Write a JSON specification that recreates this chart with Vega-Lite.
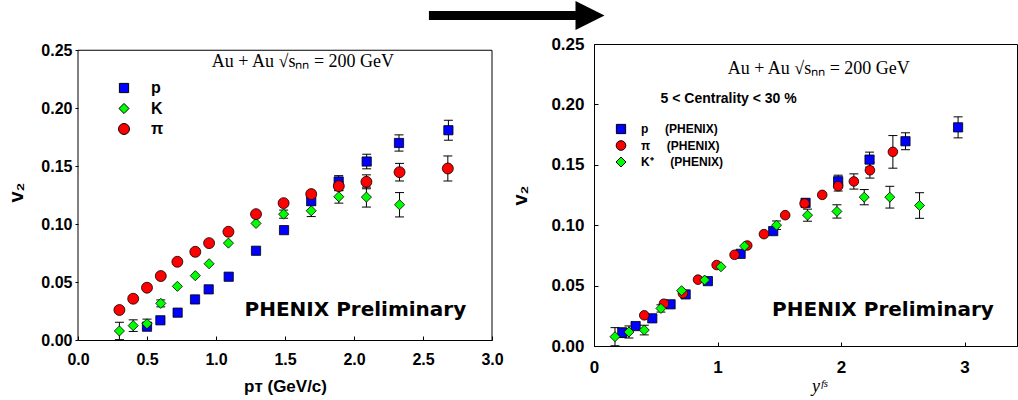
{
 "$schema": "https://vega.github.io/schema/vega-lite/v6.json",
 "padding": {"left": 6, "top": 0, "right": 0, "bottom": 0},
 "bounds": "flush",
 "spacing": 102,
 "config": {
  "view": {"stroke": "black", "strokeWidth": 1},
  "axis": {"labelFont": "Liberation Sans", "labelFontWeight": "bold", "labelColor": "black", "titleFont": "Liberation Sans", "titleFontWeight": "bold", "titleFontSize": 18, "titleColor": "black", "tickColor": "black", "domainColor": "black", "grid": false, "labelFlush": false, "labelOverlap": false},
  "legend": {"padding": 0, "symbolStrokeColor": "black", "symbolStrokeWidth": 1, "labelColor": "black"}
 },
 "datasets": {
  "one": [{"k": 1}],
  "left": [
   {"s": "p", "x": 0.5, "v": 0.0115},
   {"s": "p", "x": 0.597, "v": 0.017},
   {"s": "p", "x": 0.722, "v": 0.0236},
   {"s": "p", "x": 0.848, "v": 0.035},
   {"s": "p", "x": 0.947, "v": 0.0437},
   {"s": "p", "x": 1.092, "v": 0.0546},
   {"s": "p", "x": 1.29, "v": 0.077},
   {"s": "p", "x": 1.493, "v": 0.0948},
   {"s": "p", "x": 1.69, "v": 0.1198, "lo": 0.1168, "hi": 0.1228},
   {"s": "p", "x": 1.889, "v": 0.1368, "lo": 0.1318, "hi": 0.1418},
   {"s": "p", "x": 2.092, "v": 0.154, "lo": 0.1477, "hi": 0.1603},
   {"s": "p", "x": 2.326, "v": 0.17, "lo": 0.163, "hi": 0.177},
   {"s": "p", "x": 2.684, "v": 0.181, "lo": 0.1724, "hi": 0.1896},
   {"s": "K", "x": 0.3, "v": 0.0078, "lo": 0.0003, "hi": 0.0153},
   {"s": "K", "x": 0.4, "v": 0.0124, "lo": 0.0074, "hi": 0.0174},
   {"s": "K", "x": 0.5, "v": 0.014, "lo": 0.01, "hi": 0.018},
   {"s": "K", "x": 0.6, "v": 0.0316, "lo": 0.0286, "hi": 0.0346},
   {"s": "K", "x": 0.72, "v": 0.0463},
   {"s": "K", "x": 0.85, "v": 0.0555},
   {"s": "K", "x": 0.95, "v": 0.0658},
   {"s": "K", "x": 1.09, "v": 0.0836},
   {"s": "K", "x": 1.29, "v": 0.1006},
   {"s": "K", "x": 1.49, "v": 0.1086, "lo": 0.1051, "hi": 0.1121},
   {"s": "K", "x": 1.69, "v": 0.1115, "lo": 0.1065, "hi": 0.1165},
   {"s": "K", "x": 1.89, "v": 0.1236, "lo": 0.1181, "hi": 0.1291},
   {"s": "K", "x": 2.09, "v": 0.1233, "lo": 0.1147, "hi": 0.1319},
   {"s": "K", "x": 2.33, "v": 0.1167, "lo": 0.1062, "hi": 0.1272},
   {"s": "π", "x": 0.3, "v": 0.0259},
   {"s": "π", "x": 0.4, "v": 0.0356},
   {"s": "π", "x": 0.5, "v": 0.0451},
   {"s": "π", "x": 0.6, "v": 0.0552},
   {"s": "π", "x": 0.72, "v": 0.0675},
   {"s": "π", "x": 0.85, "v": 0.0761},
   {"s": "π", "x": 0.95, "v": 0.0836},
   {"s": "π", "x": 1.09, "v": 0.0934},
   {"s": "π", "x": 1.29, "v": 0.1086},
   {"s": "π", "x": 1.49, "v": 0.1181},
   {"s": "π", "x": 1.69, "v": 0.1259},
   {"s": "π", "x": 1.89, "v": 0.1328, "lo": 0.1288, "hi": 0.1368},
   {"s": "π", "x": 2.09, "v": 0.1365, "lo": 0.1305, "hi": 0.1425},
   {"s": "π", "x": 2.33, "v": 0.1448, "lo": 0.1372, "hi": 0.1524},
   {"s": "π", "x": 2.68, "v": 0.148, "lo": 0.1372, "hi": 0.1588}
  ],
  "right": [
   {"t": "p", "x": 0.229, "v": 0.011, "lo": 0.007, "hi": 0.015},
   {"t": "p", "x": 0.337, "v": 0.0165},
   {"t": "p", "x": 0.472, "v": 0.0229},
   {"t": "p", "x": 0.62, "v": 0.0345},
   {"t": "p", "x": 0.742, "v": 0.0427},
   {"t": "p", "x": 0.922, "v": 0.0537},
   {"t": "p", "x": 1.187, "v": 0.0763},
   {"t": "p", "x": 1.451, "v": 0.0951},
   {"t": "p", "x": 1.713, "v": 0.1185, "lo": 0.1155, "hi": 0.1215},
   {"t": "p", "x": 1.977, "v": 0.1364, "lo": 0.1314, "hi": 0.1414},
   {"t": "p", "x": 2.231, "v": 0.1543, "lo": 0.1481, "hi": 0.1605},
   {"t": "p", "x": 2.522, "v": 0.1695, "lo": 0.1625, "hi": 0.1765},
   {"t": "p", "x": 2.948, "v": 0.181, "lo": 0.1723, "hi": 0.1897},
   {"t": "π", "x": 0.407, "v": 0.0254},
   {"t": "π", "x": 0.566, "v": 0.035},
   {"t": "π", "x": 0.72, "v": 0.0435},
   {"t": "π", "x": 0.842, "v": 0.0549},
   {"t": "π", "x": 0.993, "v": 0.067},
   {"t": "π", "x": 1.138, "v": 0.0755},
   {"t": "π", "x": 1.241, "v": 0.0832},
   {"t": "π", "x": 1.376, "v": 0.0926},
   {"t": "π", "x": 1.548, "v": 0.1083},
   {"t": "π", "x": 1.705, "v": 0.118},
   {"t": "π", "x": 1.848, "v": 0.1251},
   {"t": "π", "x": 1.977, "v": 0.1323, "lo": 0.1283, "hi": 0.1363},
   {"t": "π", "x": 2.104, "v": 0.1362, "lo": 0.1299, "hi": 0.1425},
   {"t": "π", "x": 2.234, "v": 0.1455, "lo": 0.139, "hi": 0.152},
   {"t": "π", "x": 2.42, "v": 0.1607, "lo": 0.1472, "hi": 0.1742},
   {"t": "K⁺", "x": 0.17, "v": 0.0077, "lo": 0.0002, "hi": 0.0152},
   {"t": "K⁺", "x": 0.283, "v": 0.0116, "lo": 0.0066, "hi": 0.0166},
   {"t": "K⁺", "x": 0.407, "v": 0.0132, "lo": 0.0092, "hi": 0.0172},
   {"t": "K⁺", "x": 0.542, "v": 0.0311, "lo": 0.0281, "hi": 0.0341},
   {"t": "K⁺", "x": 0.709, "v": 0.0458},
   {"t": "K⁺", "x": 0.896, "v": 0.0546},
   {"t": "K⁺", "x": 1.028, "v": 0.0656},
   {"t": "K⁺", "x": 1.219, "v": 0.0827},
   {"t": "K⁺", "x": 1.478, "v": 0.1, "lo": 0.0965, "hi": 0.1035},
   {"t": "K⁺", "x": 1.729, "v": 0.1083, "lo": 0.1033, "hi": 0.1133},
   {"t": "K⁺", "x": 1.967, "v": 0.1114, "lo": 0.1059, "hi": 0.1169},
   {"t": "K⁺", "x": 2.188, "v": 0.1232, "lo": 0.1169, "hi": 0.1295},
   {"t": "K⁺", "x": 2.395, "v": 0.1232, "lo": 0.1142, "hi": 0.1322},
   {"t": "K⁺", "x": 2.636, "v": 0.1163, "lo": 0.1057, "hi": 0.1269}
  ]
 },
 "resolve": {"scale": {"color": "independent", "shape": "independent", "size": "independent"}, "legend": {"color": "independent", "shape": "independent", "size": "independent"}},
 "hconcat": [
  {
   "width": 414,
   "height": 296,
   "view": {"stroke": null},
   "layer": [
    {"data": {"name": "one"}, "mark": {"type": "rule", "color": "black", "strokeWidth": 1}, "encoding": {"x": {"datum": 0}, "x2": {"datum": 3}, "y": {"datum": 0.25}}},
    {"data": {"name": "one"}, "mark": {"type": "rule", "color": "black", "strokeWidth": 1}, "encoding": {"x": {"datum": 3}, "y": {"datum": 0}, "y2": {"datum": 0.25}}},
    {"data": {"name": "one"}, "mark": {"type": "rule", "color": "black", "strokeWidth": 1}, "encoding": {"x": {"datum": 0}, "y": {"datum": 0}, "y2": {"datum": 0.25}}},
    {"data": {"name": "one"}, "mark": {"type": "rule", "color": "black", "strokeWidth": 9, "strokeCap": "butt", "clip": false}, "encoding": {"x": {"datum": 2.543}, "x2": {"datum": 3.609}, "y": {"datum": 0.28}}},
    {"data": {"name": "one"}, "mark": {"type": "point", "shape": "M-1,-1L1,0L-1,1Z", "filled": true, "color": "black", "opacity": 1, "size": 841, "strokeWidth": 0, "clip": false}, "encoding": {"x": {"datum": 3.71}, "y": {"datum": 0.28}}},
    {"data": {"name": "one"}, "mark": {"type": "text", "font": "Liberation Serif", "fontSize": 18, "color": "black", "text": "Au + Au  √sₙₙ = 200 GeV"}, "encoding": {"x": {"datum": 1.63}, "y": {"datum": 0.24}}},
    {"data": {"name": "one"}, "mark": {"type": "text", "font": "DejaVu Sans", "fontWeight": "bold", "fontSize": 20, "color": "black", "text": "PHENIX Preliminary"}, "encoding": {"x": {"datum": 2.01}, "y": {"datum": 0.026}}},
    {"data": {"name": "left"}, "transform": [{"filter": "isValid(datum.lo)"}], "mark": {"type": "rule", "color": "black", "strokeWidth": 1}, "encoding": {"x": {"field": "x", "type": "quantitative"}, "y": {"field": "lo", "type": "quantitative"}, "y2": {"field": "hi"}}},
    {"data": {"name": "left"}, "transform": [{"filter": "isValid(datum.lo)"}], "mark": {"type": "tick", "orient": "horizontal", "size": 9, "thickness": 1, "color": "black", "opacity": 1}, "encoding": {"x": {"field": "x", "type": "quantitative"}, "y": {"field": "lo", "type": "quantitative"}}},
    {"data": {"name": "left"}, "transform": [{"filter": "isValid(datum.lo)"}], "mark": {"type": "tick", "orient": "horizontal", "size": 9, "thickness": 1, "color": "black", "opacity": 1}, "encoding": {"x": {"field": "x", "type": "quantitative"}, "y": {"field": "hi", "type": "quantitative"}}},
    {
     "data": {"name": "left"},
     "mark": {"type": "point", "filled": true, "opacity": 1, "stroke": "black", "strokeWidth": 0.8},
     "encoding": {
      "x": {"field": "x", "type": "quantitative", "scale": {"domain": [0, 3], "nice": false, "zero": false}, "axis": {"title": "pᴛ (GeV/c)", "titleFontSize": 17, "values": [0, 0.5, 1, 1.5, 2, 2.5, 3], "format": ".1f", "tickSize": -4, "labelPadding": 15, "labelFontSize": 16, "titlePadding": 11}},
      "y": {"field": "v", "type": "quantitative", "scale": {"domain": [0, 0.2554], "nice": false, "zero": false}, "axis": {"title": "v₂", "titleFontSize": 20, "values": [0, 0.05, 0.1, 0.15, 0.2, 0.25], "format": ".2f", "tickSize": 3, "domain": false, "labelPadding": 3, "labelFontSize": 16, "titlePadding": 14}},
      "color": {"field": "s", "type": "nominal", "scale": {"domain": ["p", "K", "π"], "range": ["#0000ff", "#00ff00", "#ff0000"]}, "legend": {"orient": "none", "legendX": 38, "legendY": 38, "title": null, "labelFont": "Liberation Sans", "labelFontWeight": "bold", "labelFontSize": 16, "labelOffset": 19, "rowPadding": 4.5, "clipHeight": 12}},
      "shape": {"field": "s", "type": "nominal", "scale": {"domain": ["p", "K", "π"], "range": ["square", "diamond", "circle"]}},
      "size": {"field": "s", "type": "nominal", "scale": {"domain": ["p", "K", "π"], "range": [85, 120, 100]}}
     }
    }
   ]
  },
  {
   "width": 423,
   "height": 302,
   "layer": [
    {"data": {"name": "one"}, "mark": {"type": "text", "font": "Liberation Serif", "fontSize": 18, "color": "black", "text": "Au + Au  √sₙₙ = 200 GeV"}, "encoding": {"x": {"datum": 1.82}, "y": {"datum": 0.229}}},
    {"data": {"name": "one"}, "mark": {"type": "text", "font": "Liberation Sans", "fontWeight": "bold", "fontSize": 14, "color": "black", "text": "5 < Centrality < 30 %"}, "encoding": {"x": {"datum": 1.09}, "y": {"datum": 0.2045}}},
    {"data": {"name": "one"}, "mark": {"type": "text", "font": "DejaVu Sans", "fontWeight": "bold", "fontSize": 20, "color": "black", "text": "PHENIX Preliminary"}, "encoding": {"x": {"datum": 2.34}, "y": {"datum": 0.03}}},
    {"data": {"name": "right"}, "transform": [{"filter": "isValid(datum.lo)"}], "mark": {"type": "rule", "color": "black", "strokeWidth": 1}, "encoding": {"x": {"field": "x", "type": "quantitative"}, "y": {"field": "lo", "type": "quantitative"}, "y2": {"field": "hi"}}},
    {"data": {"name": "right"}, "transform": [{"filter": "isValid(datum.lo)"}], "mark": {"type": "tick", "orient": "horizontal", "size": 9, "thickness": 1, "color": "black", "opacity": 1}, "encoding": {"x": {"field": "x", "type": "quantitative"}, "y": {"field": "lo", "type": "quantitative"}}},
    {"data": {"name": "right"}, "transform": [{"filter": "isValid(datum.lo)"}], "mark": {"type": "tick", "orient": "horizontal", "size": 9, "thickness": 1, "color": "black", "opacity": 1}, "encoding": {"x": {"field": "x", "type": "quantitative"}, "y": {"field": "hi", "type": "quantitative"}}},
    {
     "data": {"name": "right"},
     "mark": {"type": "point", "filled": true, "opacity": 1, "stroke": "black", "strokeWidth": 0.8},
     "encoding": {
      "x": {"field": "x", "type": "quantitative", "scale": {"domain": [0, 3.425], "nice": false, "zero": false}, "axis": {"title": "yᶠˢ", "titleFont": "Liberation Serif", "titleFontStyle": "italic", "titleFontWeight": "normal", "titleFontSize": 18, "titleX": 225, "values": [0, 1, 2, 3], "format": "d", "tickSize": -4, "labelPadding": 17, "labelFontSize": 17, "titlePadding": 2}},
      "y": {"field": "v", "type": "quantitative", "scale": {"domain": [0, 0.25], "nice": false, "zero": false}, "axis": {"title": "v₂", "titleFontSize": 20, "values": [0, 0.05, 0.1, 0.15, 0.2, 0.25], "format": ".2f", "tickSize": -4, "labelPadding": 14, "labelFontSize": 17, "titlePadding": 20}},
      "color": {"field": "t", "type": "nominal", "scale": {"domain": ["p", "π", "K⁺"], "range": ["#0000ff", "#ff0000", "#00ff00"]}, "legend": {"orient": "none", "legendX": 21, "legendY": 79, "title": null, "labelFont": "Liberation Sans", "labelFontWeight": "bold", "labelFontSize": 12, "labelOffset": 14, "rowPadding": 4.5, "clipHeight": 12, "labelExpr": "datum.label + '\u00a0\u00a0\u00a0\u00a0\u00a0(PHENIX)'"}},
      "shape": {"field": "t", "type": "nominal", "scale": {"domain": ["p", "π", "K⁺"], "range": ["square", "circle", "diamond"]}},
      "size": {"field": "t", "type": "nominal", "scale": {"domain": ["p", "π", "K⁺"], "range": [85, 100, 120]}}
     }
    }
   ]
  }
 ]
}
